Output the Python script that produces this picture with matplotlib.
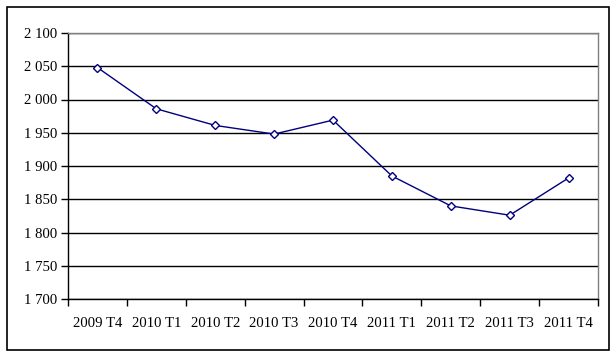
import matplotlib
matplotlib.use("Agg")
import matplotlib.pyplot as plt
from matplotlib.patches import Rectangle
from matplotlib.ticker import FuncFormatter, MultipleLocator, FixedLocator

categories = ["2009 T4", "2010 T1", "2010 T2", "2010 T3", "2010 T4",
              "2011 T1", "2011 T2", "2011 T3", "2011 T4"]
values = [2048, 1986, 1961, 1948, 1969, 1885, 1840, 1826, 1882]

plt.rcParams['font.family'] = ['Liberation Serif', 'DejaVu Serif']

W, H = 616, 356
fig = plt.figure(figsize=(W/100, H/100), dpi=100)
ax = fig.add_axes([68/W, 1-299/H, (598-68)/W, (299-33)/H])

x = list(range(len(categories)))
ax.plot(x, values, color='#000080', lw=1, marker='D', markersize=4.5,
        markerfacecolor='white', markeredgecolor='#000080', markeredgewidth=1)

ax.set_xlim(-0.5, len(categories)-0.5)
ax.set_ylim(1700, 2100)
ax.yaxis.set_major_locator(MultipleLocator(50))
ax.yaxis.set_major_formatter(FuncFormatter(lambda v, p: f"{int(v):,}".replace(",", " ")))
ax.xaxis.set_major_locator(FixedLocator([i - 0.5 for i in range(len(categories)+1)]))
ax.xaxis.set_minor_locator(FixedLocator(x))
ax.xaxis.set_major_formatter(FuncFormatter(lambda v, p: ""))
ax.xaxis.set_minor_formatter(FuncFormatter(lambda v, p: categories[int(round(v))]))
ax.tick_params(axis='x', which='minor', length=0, labelsize=10.6, pad=13)
ax.tick_params(axis='x', which='major', direction='out', length=5, width=1, color='black')
ax.tick_params(axis='y', direction='out', length=5, width=1, labelsize=10.6, color='black', pad=3)

ax.grid(axis='y', color='black', lw=1)
for g in ax.get_ygridlines()[-1:]:
    g.set_visible(False)
ax.set_axisbelow(True)
for s in ['top', 'right']:
    ax.spines[s].set_color('#808080')
for s in ['left', 'bottom']:
    ax.spines[s].set_color('black')
for s in ax.spines.values():
    s.set_linewidth(1)

fig.patches.append(Rectangle((6.5/W, 1-349.5/H), (609-6.5)/W, (349.5-7)/H,
                             transform=fig.transFigure, fill=False,
                             edgecolor='black', lw=1.2))

fig.savefig("out.png", dpi=100)
